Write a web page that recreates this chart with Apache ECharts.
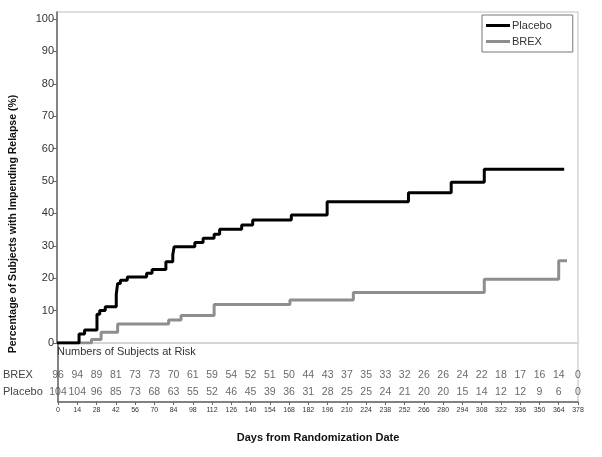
<!DOCTYPE html>
<html><head><meta charset="utf-8">
<script src="https://cdn.jsdelivr.net/npm/echarts@6/dist/echarts.min.js"></script>
<style>html,body{margin:0;padding:0;background:#fff}#c{width:602px;height:457px}</style>
</head><body><div id="c"></div>
<script>
// Kaplan-Meier style cumulative curves: [day, percent]
const placeboCurve = [[0,0],[16,2.8],[20,4.0],[29,8.9],[31,10],[35,11.2],[43,15],[44,18.4],[46,19.4],[51,20.4],[65,21.5],[69,22.7],[79,25.1],[84,27.2],[85,29.7],[100,31],[106,32.3],[114,33.6],[118,35.1],[134,36.4],[142,38],[170,39.5],[196,43.6],[255,46.4],[286,49.6],[310,53.6],[368,53.6]];
const brexCurve = [[0,0],[25,1.1],[32,3.3],[44,5.9],[81,7.1],[90,8.5],[114,11.9],[169,13.3],[215,15.6],[310,19.7],[364,25.4],[370,25.4]];
// At-risk table
const riskDays = [0,14,28,42,56,70,84,98,112,126,140,154,168,182,196,210,224,238,252,266,280,294,308,322,336,350,364,378];
const brexRisk = [96,94,89,81,73,73,70,61,59,54,52,51,50,44,43,37,35,33,32,26,26,24,22,18,17,16,14,0];
const placeboRisk = [104,104,96,85,73,68,63,55,52,46,45,39,36,31,28,25,25,24,21,20,20,15,14,12,12,9,6,0];
const yTicks = [0,10,20,30,40,50,60,70,80,90,100];
const rowNames = ['Placebo','BREX'];

const ROW_PLACEBO = 10, ROW_BREX = 27;
const font = 'Liberation Sans, Arial, sans-serif';
const chart = echarts.init(document.getElementById('c'));
function riskSeries(name, vals, row){
  return {
    type:'scatter', xAxisIndex:1, yAxisIndex:1, symbolSize:0, silent:true,
    data: riskDays.map((d,i)=>[d,row,vals[i]]),
    label:{show:true, position:'inside', formatter:p=>p.value[2], fontSize:10.5, color:'#444', fontFamily:font}
  };
}
chart.setOption({
  animation:false,
  textStyle:{fontFamily:font},
  title:{text:'Numbers of Subjects at Risk', left:57, top:346, padding:0,
    textStyle:{fontSize:11, fontWeight:'normal', color:'#333', fontFamily:font}},
  legend:{
    left:482, top:15, orient:'vertical', data:['Placebo','BREX'],
    icon:'rect', itemWidth:24, itemHeight:3, itemGap:5,
    borderColor:'#777', borderWidth:1, padding:[5,21,5,4],
    textStyle:{fontSize:11, color:'#333', fontFamily:font, padding:[0,0,0,-3]}
  },
  grid:[
    {left:57, right:24, top:12, bottom:114, show:true, borderColor:'#d4d4d4', borderWidth:1.5, containLabel:false},
    {left:57, right:24, top:343, bottom:55, show:true, borderColor:'#d4d4d4', borderWidth:1.5, containLabel:false}
  ],
  xAxis:[
    {type:'value', gridIndex:0, min:0, max:378, show:false},
    {type:'value', gridIndex:1, min:0, max:378, interval:14,
      axisLine:{show:true, lineStyle:{color:'#666', width:1.5}},
      axisTick:{show:true, length:3, lineStyle:{color:'#666'}},
      axisLabel:{fontSize:7, color:'#333', margin:5, showMaxLabel:true, showMinLabel:true},
      splitLine:{show:false},
      name:'Days from Randomization Date', nameLocation:'middle', nameGap:30,
      nameTextStyle:{fontSize:11, fontWeight:'bold', color:'#111', fontFamily:font}}
  ],
  yAxis:[
    {type:'value', gridIndex:0, min:0, max:102.16,
      axisLine:{show:true, lineStyle:{color:'#666', width:1.5}},
      axisTick:{show:true, length:4, customValues:yTicks, lineStyle:{color:'#666'}},
      axisLabel:{customValues:yTicks, fontSize:11, color:'#333', margin:3},
      splitLine:{show:false}},
    {type:'value', gridIndex:1, min:0, max:59,
      axisLine:{show:true, lineStyle:{color:'#666', width:1.5}},
      axisTick:{show:false},
      axisLabel:{customValues:[ROW_PLACEBO, ROW_BREX], formatter:v=>v===ROW_PLACEBO?rowNames[0]:rowNames[1],
        fontSize:11, color:'#444', align:'left', margin:55},
      splitLine:{show:false}}
  ],
  graphic:[{type:'text', x:13, y:224, rotation:Math.PI/2,
    style:{text:'Percentage of Subjects with Impending Relapse (%)', font:'bold 10.5px '+font, fill:'#111', textAlign:'center', textVerticalAlign:'middle'}}],
  series:[
    {name:'Placebo', type:'line', step:'end', data:placeboCurve, showSymbol:false, color:'#000',
      lineStyle:{color:'#000', width:3}, xAxisIndex:0, yAxisIndex:0, z:3},
    {name:'BREX', type:'line', step:'end', data:brexCurve, showSymbol:false, color:'#8e8e8e',
      lineStyle:{color:'#8e8e8e', width:3}, xAxisIndex:0, yAxisIndex:0, z:2},
    riskSeries('BREXrisk', brexRisk, ROW_BREX),
    riskSeries('PlaceboRisk', placeboRisk, ROW_PLACEBO)
  ]
});
</script></body></html>
